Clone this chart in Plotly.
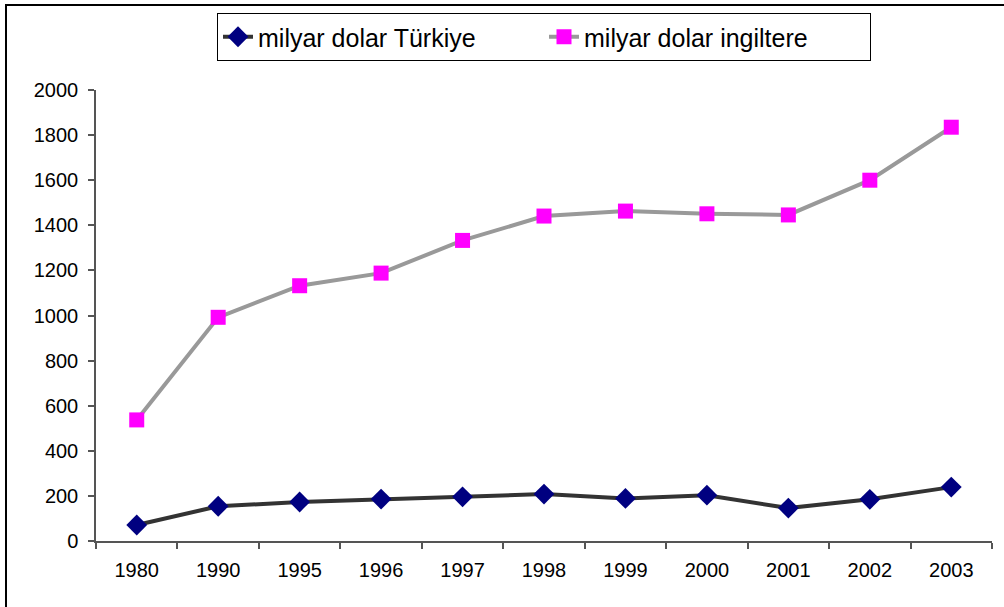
import plotly.graph_objects as go

years = ["1980", "1990", "1995", "1996", "1997", "1998", "1999", "2000", "2001", "2002", "2003"]
turkiye = [71, 154, 173, 186, 196, 208, 189, 203, 146, 185, 239]
ingiltere = [537, 992, 1132, 1188, 1333, 1441, 1463, 1451, 1446, 1600, 1835]
y_ticks = [0, 200, 400, 600, 800, 1000, 1200, 1400, 1600, 1800, 2000]

W, H = 1004, 607
L, R, T, B = 96, 12, 90, 66
pw, ph = W - L - R, H - T - B

def px_x(p):
    return (p - L) / pw

def px_y(p):
    return (H - B - p) / ph

fig = go.Figure()
fig.add_trace(go.Scatter(
    x=years, y=turkiye, mode="lines+markers", name="milyar dolar Türkiye",
    line=dict(color="#333333", width=4),
    marker=dict(symbol="diamond", size=16, color="#000080"),
))
fig.add_trace(go.Scatter(
    x=years, y=ingiltere, mode="lines+markers", name="milyar dolar ingiltere",
    line=dict(color="#999999", width=4),
    marker=dict(symbol="square", size=15, color="#FF00FF"),
))

font_family = "Liberation Sans, Arial, sans-serif"

fig.update_layout(
    width=W, height=H,
    margin=dict(l=L, r=R, t=T, b=B, pad=0, autoexpand=False),
    paper_bgcolor="white", plot_bgcolor="white",
    font=dict(family=font_family, color="black", size=20),
    showlegend=True,
    legend=dict(
        orientation="h",
        x=px_x(217), xanchor="left",
        y=px_y(13), yanchor="top",
        bordercolor="black", borderwidth=1,
        font=dict(size=25, family=font_family, color="black"),
        bgcolor="white",
        entrywidth=281,
        tracegroupgap=0,
    ),
    xaxis=dict(
        type="category", range=[-0.5, 10.5],
        showline=True, linecolor="#555555", linewidth=1.5,
        ticks="outside", ticklen=6, tickcolor="#555555", tickwidth=1.5,
        tickson="boundaries",
        showgrid=False, zeroline=False,
        ticklabelstandoff=10,
        tickfont=dict(size=20),
    ),
    yaxis=dict(
        range=[0, 2000], tickvals=y_ticks,
        showline=True, linecolor="#555555", linewidth=1.5,
        ticks="outside", ticklen=6, tickcolor="#555555", tickwidth=1.5,
        showgrid=False, zeroline=False,
        ticklabelstandoff=6,
        tickfont=dict(size=20),
    ),
    shapes=[dict(
        type="rect", xref="paper", yref="paper",
        x0=px_x(6), x1=px_x(1010), y0=px_y(620), y1=px_y(5),
        line=dict(color="black", width=2), fillcolor="rgba(0,0,0,0)",
        layer="below",
    )],
)

fig.write_html(
    "out.html",
    config={"displayModeBar": False},
    post_script="document.body.style.margin='0';document.body.style.padding='0';",
)
